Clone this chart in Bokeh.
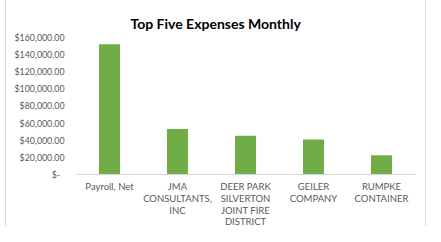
from bokeh.plotting import figure
from bokeh.models import FixedTicker, Range1d, ColumnDataSource, Span
from bokeh.core.properties import value
from bokeh.embed import file_html
from bokeh.resources import INLINE

categories = ["Payroll, Net", "JMA CONSULTANTS, INC",
              "DEER PARK SILVERTON JOINT FIRE DISTRICT",
              "GEILER COMPANY", "RUMPKE CONTAINER"]
category_labels = ["Payroll, Net", "JMA\nCONSULTANTS,\nINC",
                   "DEER PARK\nSILVERTON\nJOINT FIRE\nDISTRICT",
                   "GEILER\nCOMPANY", "RUMPKE\nCONTAINER"]
expenses = [152000, 53000, 45200, 40900, 22500]
y_ticks = [0, 20000, 40000, 60000, 80000, 100000, 120000, 140000, 160000]
y_tick_labels = ["$-\u00a0\u00a0", "$20,000.00", "$40,000.00", "$60,000.00", "$80,000.00",
                 "$100,000.00", "$120,000.00", "$140,000.00", "$160,000.00"]

FONT = "Lato"
GRAY = "#595959"
EDGE = "#d9d9d9"

xs = list(range(len(categories)))
baseline = [0] * len(categories)
src = ColumnDataSource(dict(x=xs, top=expenses, base=baseline,
                            name=categories, label=category_labels))

# frame bottom extends below zero so category labels sit inside the frame
p = figure(width=425, height=226, output_backend="svg", toolbar_location=None,
           x_range=Range1d(-0.5, len(categories) - 0.5), y_range=Range1d(-60730, 160000),
           min_border_left=75, min_border_right=10, min_border_top=37, min_border_bottom=0,
           title="Top Five Expenses Monthly")
p.styles = {
    "box-shadow": (f"inset 5px 0 0 0 white, inset 6px 0 0 0 {EDGE}, "
                   f"0 -3px 0 0 white, 0 -4px 0 0 {EDGE}, 1px 0 0 0 {EDGE}"),
}

p.title.align = "left"
p.title.offset = 55
p.title.text_font = FONT
p.title.text_font_size = "14px"
p.title.text_font_style = "bold"
p.title.text_color = "#000000"
p.title.standoff = 12

p.vbar(x="x", top="top", bottom="base", width=0.31, source=src,
       fill_color="#70ad47", line_color=None)

p.add_layout(Span(location=0, dimension="width", line_color=EDGE, line_width=1))

p.text(x="x", y="base", text="label", source=src,
       text_align="center", text_baseline="top", y_offset=7,
       text_font=value(FONT), text_font_size="9.5px", text_color=GRAY,
       text_line_height=1.05)

p.xgrid.visible = False
p.ygrid.visible = False
p.outline_line_color = None
p.background_fill_color = "white"
p.border_fill_alpha = 0

p.xaxis.visible = False

ya = p.yaxis[0]
ya.ticker = FixedTicker(ticks=y_ticks)
ya.major_label_overrides = {v: lab for v, lab in zip(y_ticks, y_tick_labels)}
ya.axis_line_color = None
ya.major_tick_line_color = None
ya.minor_tick_line_color = None
ya.major_tick_out = 0
ya.major_tick_in = 0
ya.major_label_text_font = FONT
ya.major_label_text_font_size = "8.8px"
ya.major_label_text_color = GRAY
ya.major_label_standoff = 11

open("out.html", "w").write(file_html(p, INLINE))
